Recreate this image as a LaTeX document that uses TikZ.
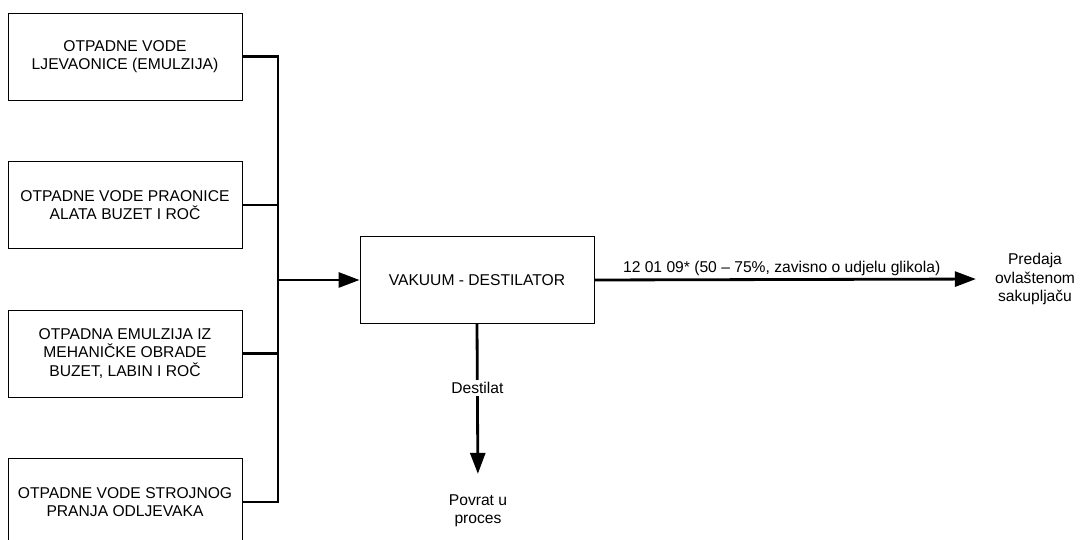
\documentclass[tikz,border=0pt]{standalone}
\usepackage{fontspec}
\setmainfont{Liberation Sans}
\usepackage{tikz}
\usetikzlibrary{arrows.meta,positioning}

\begin{document}
\begin{tikzpicture}[x=0.02cm, y=-0.02cm, font=\fontsize{8.9}{10.3}\selectfont,
  srcbox/.style={draw, line width=0.5pt, align=center, minimum width=4.68cm, minimum height=1.74cm, inner sep=2pt},
  feed/.style={line width=1.6pt},
  arr/.style={-{Triangle[length=0.42cm, width=0.3cm]}, line width=1.6pt}]
\useasboundingbox (0,0) rectangle (1080,540);
\clip (0,0) rectangle (1080,540);
% sources on the left
\node[srcbox] (src1) at (125,56.5) {OTPADNE VODE\\LJEVAONICE (EMULZIJA)};
\node[srcbox] (src2) at (125,205) {OTPADNE VODE PRAONICE\\ALATA BUZET I ROČ};
\node[srcbox] (src3) at (125,353.5) {OTPADNA EMULZIJA IZ\\MEHANIČKE OBRADE\\BUZET, LABIN I ROČ};
\node[srcbox] (src4) at (125,502) {OTPADNE VODE STROJNOG\\PRANJA ODLJEVAKA};
\coordinate (junc) at (278,280);
% distiller and outputs
\node[srcbox] (dest) at (477,280) {VAKUUM - DESTILATOR};
\node[align=center, inner sep=1pt] (coll) at (1035,279) {Predaja\\ovlaštenom\\sakupljaču};
\node[align=center, inner sep=1pt] (ret) at (478,511) {Povrat u\\proces};
\foreach \s in {src1,src2,src3,src4}
  \draw[feed] (\s.east) -| (junc);
\draw[arr] (junc) -- (dest.west);
\draw[arr, shorten >=0.34cm] (dest.east) -- node[above, pos=0.47, inner sep=1.5pt] {12 01 09* (50 – 75\%, zavisno o udjelu glikola)} (coll.west);
\draw[arr, shorten >=0.38cm] (dest.south) -- node[pos=0.38, fill=white, inner sep=1.5pt] {Destilat} (ret.north);
\end{tikzpicture}
\end{document}
